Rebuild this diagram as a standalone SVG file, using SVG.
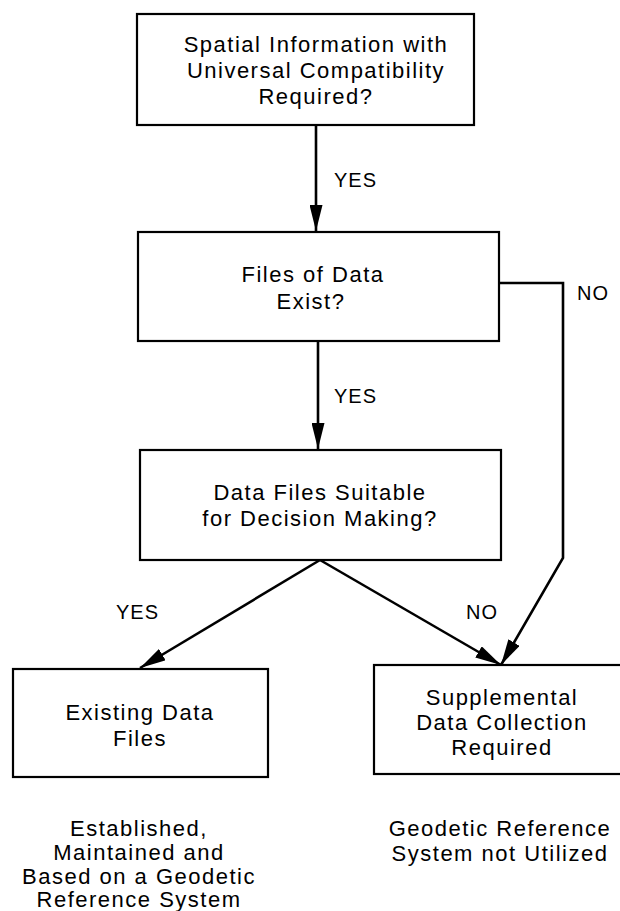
<svg xmlns="http://www.w3.org/2000/svg" width="620" height="911" viewBox="0 0 620 911">
<style>
  .box{fill:#fff;stroke:#000;stroke-width:2.2}
  .t{font-family:"Liberation Sans",Arial,sans-serif;font-size:22px;letter-spacing:1.5px;fill:#000;text-anchor:middle}
  .lbl{font-family:"Liberation Sans",Arial,sans-serif;font-size:20px;letter-spacing:1px;fill:#000}
  .c{fill:none;stroke:#000;stroke-width:2.6}
</style>
<defs>
  <marker id="ah" markerUnits="userSpaceOnUse" markerWidth="27" markerHeight="13" refX="26" refY="6.5" orient="auto">
    <path d="M0,0 L26,6.5 L0,13 z" fill="#000"/>
  </marker>
</defs>
<rect width="620" height="911" fill="#fff"/>
<g id="connectors">
  <line class="c" x1="316" y1="125" x2="316" y2="231" marker-end="url(#ah)"/>
  <line class="c" x1="318" y1="341" x2="318" y2="449" marker-end="url(#ah)"/>
  <polyline class="c" points="499,283 563,283 563,558 501,665" marker-end="url(#ah)"/>
  <line class="c" x1="320" y1="560" x2="140" y2="668" marker-end="url(#ah)"/>
  <line class="c" x1="320" y1="560" x2="501" y2="665" marker-end="url(#ah)"/>
  <text class="lbl" x="334" y="187">YES</text>
  <text class="lbl" x="334" y="403">YES</text>
  <text class="lbl" x="577" y="300">NO</text>
  <text class="lbl" x="116" y="619">YES</text>
  <text class="lbl" x="466" y="619">NO</text>
</g>
<g id="n1">
  <rect class="box" x="137" y="14" width="337" height="111"/>
  <text class="t" x="316" y="52">Spatial Information with</text>
  <text class="t" x="316" y="78">Universal Compatibility</text>
  <text class="t" x="316" y="104">Required?</text>
</g>
<g id="n2">
  <rect class="box" x="138" y="232" width="361" height="109"/>
  <text class="t" x="313" y="282">Files of Data</text>
  <text class="t" x="311" y="309">Exist?</text>
</g>
<g id="n3">
  <rect class="box" x="140" y="450" width="361" height="110"/>
  <text class="t" x="320" y="500">Data Files Suitable</text>
  <text class="t" x="320" y="526">for Decision Making?</text>
</g>
<g id="n4">
  <rect class="box" x="13" y="669" width="255" height="108"/>
  <text class="t" x="140" y="720">Existing Data</text>
  <text class="t" x="140" y="746">Files</text>
</g>
<g id="n5">
  <rect class="box" x="374" y="665" width="260" height="109"/>
  <text class="t" x="502" y="705">Supplemental</text>
  <text class="t" x="502" y="730">Data Collection</text>
  <text class="t" x="502" y="755">Required</text>
</g>
<g id="note-left">
  <text class="t" x="139" y="836">Established,</text>
  <text class="t" x="139" y="860">Maintained and</text>
  <text class="t" x="139" y="884">Based on a Geodetic</text>
  <text class="t" x="139" y="907">Reference System</text>
</g>
<g id="note-right">
  <text class="t" x="500" y="836">Geodetic Reference</text>
  <text class="t" x="500" y="861">System not Utilized</text>
</g>
</svg>
